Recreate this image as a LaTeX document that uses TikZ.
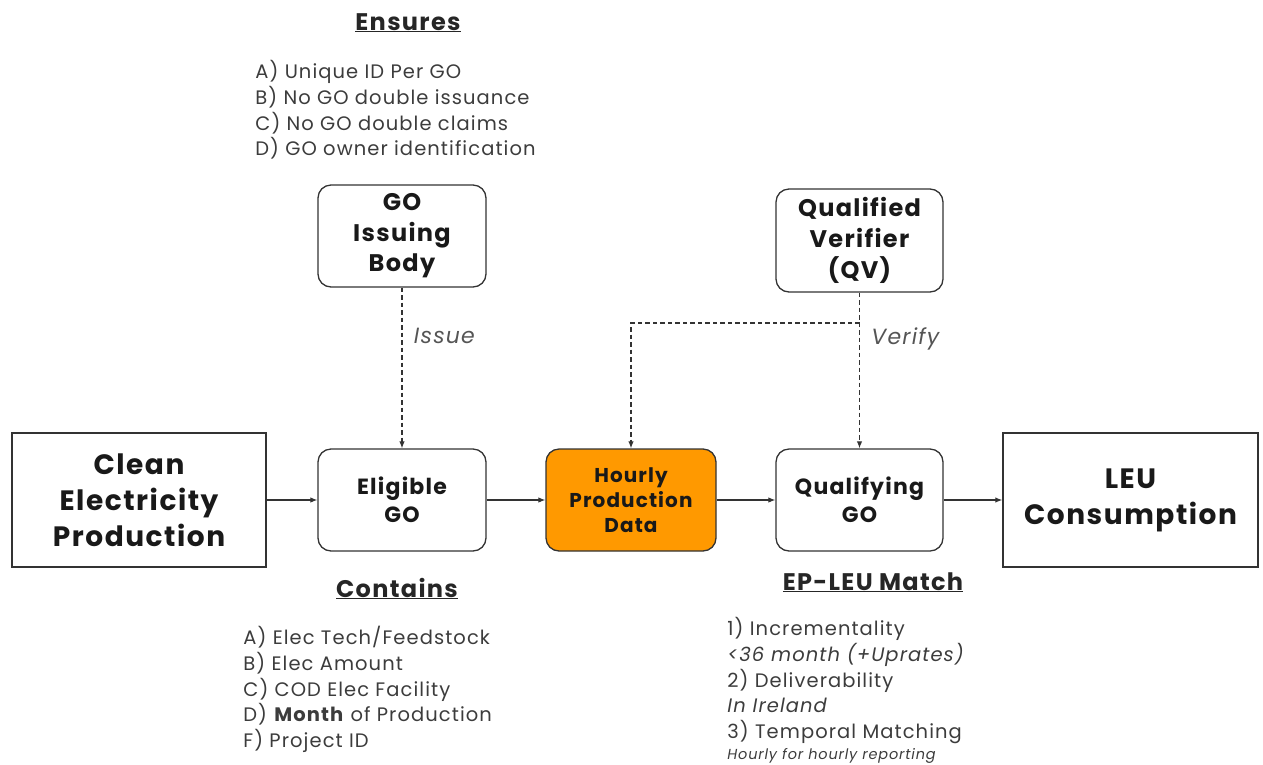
\documentclass[tikz,border=0pt]{standalone}
\usepackage{fontspec}
\setmainfont{Poppins}[LetterSpace=5.5]
\usetikzlibrary{arrows.meta, positioning}

\definecolor{linegray}{HTML}{333333}
\definecolor{listgray}{HTML}{3C3C3C}
\definecolor{labelgray}{HTML}{555555}
\definecolor{hourorange}{HTML}{FF9900}

\begin{document}
\begin{tikzpicture}[x=1pt, y=-1pt, thick,
    flowbox/.style={draw=linegray, line width=1.3pt, rounded corners=13pt, align=center,
      text=black!90, font=\bfseries\fontsize{22}{28}\selectfont,
      minimum width=168pt, minimum height=102pt, inner sep=0pt},
    endbox/.style={draw=linegray, line width=1.5pt, align=center,
      text=black!90, font=\bfseries\fontsize{28}{36}\selectfont,
      minimum width=254pt, minimum height=134pt, inner sep=0pt},
    heading/.style={anchor=base, text=black!85, font=\bfseries\fontsize{24}{28}\selectfont},
    listtext/.style={anchor=north west, align=left, text=listgray, inner sep=0pt,
      font=\fontsize{19.5}{25.7}\selectfont},
    actlabel/.style={text=labelgray, font=\itshape\fontsize{22}{26}\selectfont},
    feed/.style={draw=linegray, line width=1.1pt, -{Latex[length=7pt,width=5.5pt]}},
    dashfeed/.style={feed, line width=1.2pt, dashed, dash pattern=on 4.5pt off 3pt}]

    \useasboundingbox (0,0) rectangle (1263,764);

    % main row
    \node[endbox] (clean) at (139,500) {Clean\\Electricity\\Production};
    \node[flowbox] (eligible) at (402,500) {Eligible\\GO};
    \node[flowbox, fill=hourorange, minimum width=170pt, font=\bfseries\fontsize{20}{25}\selectfont] (hourly) at (631,500) {Hourly\\Production\\Data};
    \node[flowbox, minimum width=167pt] (qualgo) at (859.5,500) {Qualifying\\GO};
    \node[endbox, minimum width=255pt] (leu) at (1130.5,500) {LEU\\Consumption};

    % top row
    \node[flowbox, font=\bfseries\fontsize{24}{30.5}\selectfont] (issuer) at (402,236) {GO\\Issuing\\Body};
    \node[flowbox, minimum width=167pt, minimum height=103pt, font=\bfseries\fontsize{24}{31}\selectfont] (verifier) at (859.5,240.5) {Qualified\\Verifier\\(QV)};
    \coordinate (split) at (859.5,323);

    % connectors
    \draw[feed] (clean) -- (eligible);
    \draw[feed] (eligible) -- (hourly);
    \draw[feed] (hourly) -- (qualgo);
    \draw[feed] (qualgo) -- (leu);
    \draw[dashfeed] (issuer.south) -- node[actlabel, right=8pt, pos=0.3] (issue) {Issue} (eligible.north);
    \draw[dashfeed] (verifier.south) -- node[actlabel, right=8pt, pos=0.3] (verify) {Verify} (qualgo.north);
    \draw[dashfeed] (split) -| (hourly.north);

    % notes
    \node[heading] (ensures) at (408,30) {\underline{Ensures}};
    \node[listtext] (ensurelist) at (255,60) {A) Unique ID Per GO\\B) No GO double issuance\\C) No GO double claims\\D) GO owner identification};
    \node[heading] (contains) at (397,597) {\underline{Contains}};
    \node[listtext] (containlist) at (243,626) {A) Elec Tech/Feedstock\\B) Elec Amount\\C) COD Elec Facility\\D) \textbf{Month} of Production\\F) Project ID};
    \node[heading] (match) at (873,590) {\underline{EP-LEU Match}};
    \node[listtext] (matchlist) at (727,617) {1) Incrementality\\\textit{<36 month (+Uprates)}\\2) Deliverability\\\textit{In Ireland}\\3) Temporal Matching\\[-5pt]{\fontsize{14.5}{16}\selectfont\itshape Hourly for hourly reporting}};
\end{tikzpicture}
\end{document}
